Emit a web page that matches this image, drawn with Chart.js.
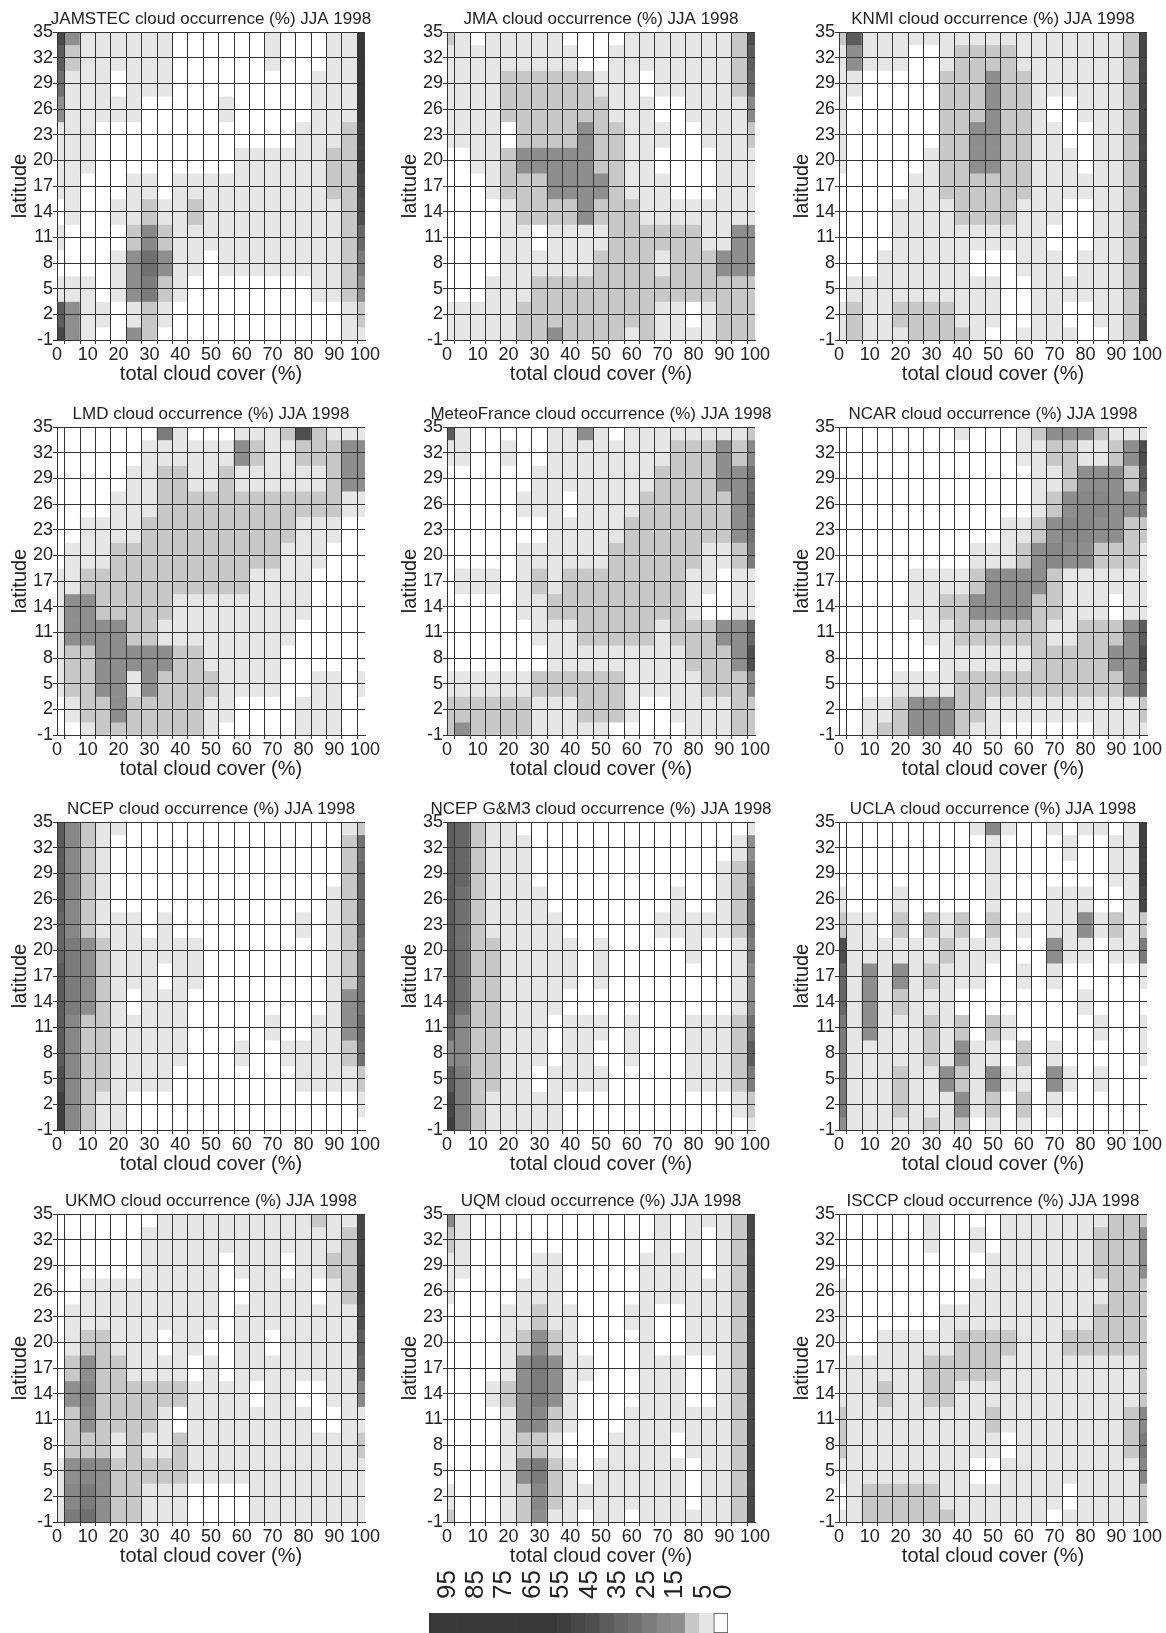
<!DOCTYPE html>
<html>
<head>
<meta charset="utf-8">
<title>cloud occurrence JJA 1998</title>
<script src="https://cdn.jsdelivr.net/npm/chart.js@4.4.1/dist/chart.umd.min.js"></script>
<style>
  body { margin: 0; background: #fff; }
  #page { position: relative; width: 1166px; height: 1633px; overflow: hidden; background: #fff; }
  #page canvas { position: absolute; }
</style>
</head>
<body>
<div id="page"></div>
<script>
// grid nodes: total cloud cover (%) and latitude (rows listed from 35 down to -1)
const cloudCover = [0, 5, 10, 15, 20, 25, 30, 35, 40, 45, 50, 55, 60, 65, 70, 75, 80, 85, 90, 95, 100];
const latitudes = [35, 32, 29, 26, 23, 20, 17, 14, 11, 8, 5, 2, -1];

// cloud occurrence (%), one row per latitude
const jamstec = [
  [50,15,5,5,5,5,5,5,0,0,0,0,0,0,5,0,0,0,5,5,60],
  [40,10,5,5,5,5,5,5,0,0,0,0,0,0,5,0,0,0,5,5,60],
  [30,5,5,5,0,5,5,5,0,0,0,0,0,0,0,0,0,5,5,5,60],
  [15,5,5,5,5,5,0,0,0,0,0,5,0,0,0,0,0,5,5,5,60],
  [5,5,5,0,0,0,0,0,0,0,0,0,0,0,0,0,5,5,5,10,55],
  [5,5,5,0,0,0,0,0,0,0,0,0,5,5,5,5,5,5,10,10,55],
  [5,5,0,0,0,5,5,0,5,5,5,5,5,5,5,5,5,5,10,10,50],
  [0,5,0,0,5,5,10,5,5,10,5,5,5,5,5,5,5,5,5,10,45],
  [5,0,0,0,0,10,20,10,5,5,5,5,5,5,5,5,5,5,5,10,35],
  [0,0,0,0,5,15,30,15,5,5,0,5,5,5,5,5,5,5,5,10,25],
  [5,5,5,0,5,15,25,10,5,0,0,0,0,0,0,0,0,5,5,10,15],
  [40,15,5,5,0,5,10,5,0,0,0,0,0,0,0,0,0,0,0,5,10],
  [50,15,5,0,0,15,10,0,0,0,0,0,0,0,0,0,0,0,0,5,5]
];
const jma = [
  [10,5,0,5,5,5,5,5,0,0,0,0,5,5,5,5,5,5,5,10,45],
  [5,5,5,5,5,5,5,5,5,0,0,5,5,5,5,5,5,5,5,10,40],
  [5,5,5,5,10,10,10,10,10,10,5,5,5,0,5,5,5,5,5,10,35],
  [5,5,5,5,10,10,10,10,10,10,10,5,5,5,0,0,5,5,5,5,20],
  [5,5,5,5,0,10,10,10,10,15,10,10,5,5,5,0,0,5,5,5,10],
  [0,0,5,5,10,15,15,15,15,15,10,10,5,5,0,0,0,0,5,5,5],
  [0,0,0,5,10,10,10,15,15,15,15,10,5,5,5,0,0,0,5,5,5],
  [0,0,0,0,5,10,10,10,10,15,10,10,10,5,5,5,5,5,5,5,5],
  [0,0,0,0,5,5,0,5,5,5,5,10,10,10,10,10,10,5,5,15,15],
  [0,0,0,0,5,5,5,5,5,5,10,10,10,10,5,10,10,10,15,15,15],
  [0,0,0,5,5,5,10,10,10,10,10,10,10,10,10,10,10,10,10,10,10],
  [5,5,5,5,5,10,10,10,10,10,10,10,10,10,5,5,0,5,10,10,10],
  [5,5,5,5,5,10,10,15,10,10,10,10,5,10,5,5,5,5,10,10,10]
];
const knmi = [
  [10,40,5,5,5,5,5,5,5,5,5,5,5,5,5,5,5,5,5,10,50],
  [5,15,5,5,5,0,0,5,10,10,10,10,5,5,5,5,5,5,5,10,50],
  [5,5,0,0,0,0,0,10,10,10,15,10,10,5,5,5,5,5,5,10,50],
  [5,0,0,0,0,0,0,10,10,10,15,10,10,5,0,0,5,5,5,10,50],
  [5,0,0,0,0,0,0,10,10,15,15,10,10,5,5,0,0,5,5,10,50],
  [5,0,0,0,0,0,5,10,10,15,15,10,10,5,5,5,0,5,5,10,50],
  [0,0,0,0,0,5,5,10,10,10,10,10,10,5,5,5,5,5,5,10,50],
  [0,0,0,0,5,5,5,5,10,10,10,10,5,5,5,0,0,5,5,10,50],
  [0,0,0,0,5,5,5,5,5,5,5,5,5,5,0,0,0,5,5,10,50],
  [0,0,0,5,5,5,5,5,5,0,0,0,5,5,5,0,5,5,5,10,50],
  [0,5,5,5,5,5,5,5,5,5,5,0,0,5,5,5,5,5,5,10,50],
  [5,10,5,5,10,10,10,10,5,5,5,0,0,5,5,0,0,5,5,10,50],
  [5,10,5,5,5,10,10,10,10,5,0,0,5,5,5,5,0,0,5,10,50]
];
const lmd = [
  [0,0,0,0,0,0,0,25,5,0,0,0,5,5,5,10,45,10,5,5,5],
  [0,0,0,0,0,0,5,5,5,5,5,5,15,10,5,5,10,10,10,15,15],
  [0,0,0,0,0,5,5,10,10,5,5,10,5,5,5,5,5,5,10,15,15],
  [0,0,0,0,5,5,5,10,10,10,10,10,10,10,10,10,10,10,10,5,5],
  [0,0,5,5,5,5,10,10,10,10,10,10,10,10,10,10,5,5,5,0,0],
  [0,5,5,5,10,10,10,10,10,10,10,10,10,10,10,5,5,5,0,0,0],
  [5,5,10,10,10,10,10,10,10,10,10,10,10,5,5,5,5,0,0,0,0],
  [5,15,15,10,10,10,10,10,5,5,5,5,5,5,5,5,5,0,0,0,0],
  [5,15,15,15,15,10,10,5,5,5,5,5,5,5,5,5,0,0,0,0,0],
  [5,10,10,15,15,15,15,15,10,10,5,5,5,5,5,0,0,0,0,0,0],
  [5,10,10,15,15,5,15,10,10,10,10,5,5,5,5,0,0,5,5,0,5],
  [0,5,10,10,15,10,10,10,10,10,5,5,0,0,0,0,5,5,5,0,0],
  [0,0,5,10,10,10,10,10,10,10,5,0,0,0,0,0,5,5,5,0,0]
];
const meteoFrance = [
  [40,5,0,0,0,0,0,5,5,15,5,0,5,5,5,5,5,5,5,5,10],
  [5,5,0,0,5,0,0,5,5,5,5,5,5,5,5,10,10,10,15,10,20],
  [0,0,0,0,0,0,5,5,5,5,5,5,5,5,10,10,10,10,15,15,30],
  [0,0,0,0,0,5,5,5,0,5,5,5,5,10,10,10,10,10,10,15,35],
  [0,0,0,0,0,0,0,5,5,5,5,5,10,10,10,10,10,10,10,15,30],
  [0,0,0,0,0,5,5,5,5,5,5,10,10,10,10,10,10,5,5,10,25],
  [0,5,5,5,0,5,10,5,10,10,10,10,10,10,10,10,5,5,0,5,5],
  [0,0,0,0,0,5,5,10,10,10,10,10,10,10,10,10,5,0,0,5,5],
  [0,0,0,0,0,0,5,5,5,10,10,10,10,10,5,10,10,10,15,15,35],
  [0,0,0,0,0,0,0,5,5,5,5,5,5,5,5,5,10,10,10,15,45],
  [5,5,5,5,5,5,10,10,10,10,10,10,5,5,5,5,5,10,10,10,20],
  [10,10,10,10,10,10,5,5,5,10,10,10,5,0,0,5,5,5,5,10,10],
  [10,15,10,10,10,10,5,5,5,5,5,0,0,0,0,0,5,5,5,10,10]
];
const ncar = [
  [0,0,0,0,0,0,0,0,5,0,0,0,5,10,15,15,15,10,5,5,5],
  [0,0,0,0,0,0,0,0,0,0,0,0,5,5,10,10,5,5,10,15,45],
  [0,0,0,0,0,0,0,0,0,0,0,0,0,5,5,10,15,15,15,10,40],
  [0,0,0,0,0,0,0,0,0,0,0,0,0,5,10,15,20,20,15,15,25],
  [0,0,0,0,0,0,0,0,0,0,0,5,5,10,15,20,20,15,15,10,10],
  [0,0,0,0,0,0,0,0,0,5,5,5,10,15,20,15,15,10,10,10,5],
  [0,0,0,0,0,5,5,5,5,10,15,15,15,15,10,5,5,5,5,5,5],
  [0,0,0,0,0,5,5,10,10,15,15,15,15,10,10,5,5,5,0,5,5],
  [0,0,0,0,0,0,5,5,10,10,10,10,10,10,5,5,10,10,10,15,40],
  [0,0,0,0,0,0,0,5,5,5,5,5,5,10,10,10,10,10,15,15,45],
  [0,0,0,0,5,5,5,5,10,10,10,10,10,10,10,10,10,10,10,15,35],
  [0,0,5,5,10,15,15,15,10,10,5,5,5,5,5,5,5,5,5,5,10],
  [0,0,5,10,10,15,15,15,10,5,5,0,0,0,0,0,0,5,5,5,5]
];
const ncep = [
  [40,20,10,5,5,0,0,0,0,0,0,0,0,0,0,0,0,0,0,5,10],
  [40,20,10,5,0,0,0,0,0,0,0,0,0,0,0,0,0,0,0,10,30],
  [40,20,10,5,0,0,0,0,0,0,0,0,0,0,0,0,0,0,0,10,35],
  [40,20,10,5,0,0,0,0,0,0,0,0,0,0,0,0,0,0,5,10,35],
  [35,20,10,5,5,5,0,5,0,0,0,0,0,0,0,0,5,0,5,10,35],
  [35,25,15,10,5,5,5,5,5,5,0,0,0,0,0,0,0,0,5,10,30],
  [40,25,15,10,5,5,5,0,5,5,0,0,0,0,0,0,0,0,5,10,30],
  [40,25,15,10,5,0,5,5,5,0,0,0,0,0,0,0,0,0,5,15,30],
  [40,20,10,10,5,5,5,5,5,0,0,0,0,0,5,0,0,5,5,15,35],
  [40,20,10,10,5,5,5,5,5,0,0,0,5,0,0,5,5,5,5,10,30],
  [45,20,10,10,5,5,5,5,0,0,0,0,0,0,0,0,5,5,5,5,10],
  [55,20,10,5,5,0,0,0,0,0,0,0,0,0,0,0,0,0,0,0,5],
  [55,20,10,5,5,0,0,0,0,0,0,0,0,0,0,0,0,0,0,0,0]
];
const ncepGM3 = [
  [40,35,10,5,5,0,0,0,0,0,0,0,0,0,0,0,0,0,0,0,5],
  [40,35,10,5,5,5,0,0,0,0,0,0,0,0,0,0,0,0,0,5,15],
  [40,35,10,5,5,5,0,0,0,0,0,0,0,0,0,0,0,0,5,10,25],
  [40,30,10,5,5,5,5,0,0,0,0,0,0,0,0,5,0,0,5,10,30],
  [40,30,10,5,5,5,5,5,0,0,0,0,0,0,5,5,5,5,5,10,30],
  [40,30,10,10,5,5,5,5,5,0,5,0,0,0,0,0,5,0,0,5,25],
  [40,30,10,10,5,5,5,5,5,0,5,0,0,0,0,0,0,0,0,5,20],
  [40,30,10,10,5,5,5,5,0,0,0,0,0,0,0,0,0,0,0,5,20],
  [35,20,10,10,5,5,5,0,5,5,5,0,5,0,0,0,5,5,5,10,30],
  [20,20,10,10,5,5,5,0,5,5,0,0,5,0,0,0,5,5,5,10,40],
  [40,25,10,10,5,5,0,5,5,5,5,0,0,0,0,0,5,5,5,10,25],
  [50,25,10,5,5,5,5,5,0,0,0,0,0,0,0,0,0,0,0,5,10],
  [55,25,10,5,5,5,5,5,0,0,0,0,0,0,0,0,0,0,0,0,5]
];
const ucla = [
  [0,0,0,0,0,0,0,0,0,5,20,5,0,0,5,0,5,5,0,5,55],
  [0,0,0,0,0,0,0,0,0,0,5,0,0,0,0,5,0,0,5,5,55],
  [0,0,0,0,0,0,0,0,0,0,5,0,0,0,0,0,0,0,5,5,55],
  [5,0,0,0,5,0,0,0,0,0,5,0,0,0,5,5,5,0,0,5,50],
  [10,5,5,0,10,0,10,5,10,0,10,0,5,0,5,5,15,5,10,5,10],
  [45,5,5,5,5,5,5,10,5,5,5,0,0,0,15,5,5,0,5,5,25],
  [35,5,15,5,15,5,10,5,5,5,0,0,5,0,5,0,0,0,0,0,5],
  [35,5,15,5,10,5,5,5,0,0,0,0,0,0,0,0,5,0,0,0,0],
  [25,5,15,5,5,5,10,5,10,0,10,5,0,0,0,0,0,5,0,0,5],
  [25,5,5,5,5,5,10,5,15,5,5,0,10,0,5,0,0,0,0,0,5],
  [25,5,5,5,10,5,5,15,10,5,20,5,5,0,15,5,0,5,0,0,0],
  [25,5,5,5,10,5,5,5,15,5,10,0,10,0,5,0,0,0,0,0,0],
  [15,5,5,5,5,5,10,5,10,0,5,0,5,0,0,0,0,0,0,0,0]
];
const ukmo = [
  [0,0,0,0,0,0,0,5,5,5,5,5,5,5,5,5,5,10,5,5,50],
  [0,0,0,0,0,0,5,5,5,5,5,5,5,5,5,5,5,5,5,10,50],
  [0,0,0,0,0,0,5,5,5,5,5,0,5,5,5,0,5,5,10,10,50],
  [0,0,5,5,5,5,5,5,5,5,5,0,0,5,5,5,5,0,5,10,50],
  [0,5,5,5,5,5,5,5,5,5,5,0,5,5,5,5,5,5,5,5,45],
  [0,5,10,10,5,5,5,0,5,5,0,0,5,5,0,5,5,5,5,5,40],
  [0,10,15,10,10,5,5,5,5,0,5,0,5,5,5,5,5,5,5,5,35],
  [0,15,20,10,10,10,10,10,10,5,5,5,5,0,5,5,0,0,5,5,20],
  [0,10,15,10,10,10,10,5,0,5,5,5,5,5,5,5,5,0,0,5,5],
  [0,10,10,10,5,10,5,5,10,5,5,5,5,5,5,5,5,5,5,5,10],
  [5,15,20,15,10,10,10,10,10,5,5,5,5,5,5,5,5,5,5,5,5],
  [5,20,25,15,10,10,5,5,5,0,0,0,0,5,5,5,5,5,5,5,5],
  [5,25,30,15,10,10,5,5,5,0,0,0,0,5,5,5,5,5,5,5,5]
];
const uqm = [
  [20,5,0,0,0,0,0,0,0,0,0,0,0,0,5,0,5,5,5,10,50],
  [10,5,0,0,0,0,0,0,0,0,0,0,0,0,5,0,5,0,5,10,50],
  [5,5,0,0,0,0,5,5,0,0,0,0,0,5,5,5,5,0,5,10,50],
  [5,0,0,0,0,5,5,5,0,0,0,0,0,5,5,5,5,5,5,10,50],
  [0,0,0,0,5,5,10,5,5,0,0,0,5,5,0,0,5,5,5,10,50],
  [0,0,0,0,5,10,15,10,5,0,0,0,0,5,0,0,5,5,5,10,50],
  [0,0,0,0,5,15,25,15,5,5,0,0,0,5,5,5,0,0,5,10,50],
  [0,0,0,5,10,15,25,15,5,0,0,0,0,5,5,5,0,0,5,10,50],
  [0,0,0,0,5,15,20,10,5,0,0,0,5,5,5,5,5,5,5,10,50],
  [0,0,0,0,5,10,10,5,0,0,0,5,5,5,5,0,5,5,5,10,50],
  [0,0,0,0,5,15,25,10,5,0,5,5,5,5,5,5,0,5,5,10,50],
  [5,0,0,0,5,10,20,10,5,5,5,5,5,5,5,5,0,5,5,10,50],
  [10,0,0,0,5,10,15,5,5,0,5,5,0,5,5,5,5,5,5,10,50]
];
const isccp = [
  [0,0,0,0,0,0,5,0,0,0,0,5,5,5,5,5,5,5,10,10,10],
  [0,0,0,0,0,0,5,0,0,5,0,5,5,5,5,5,5,10,10,10,15],
  [0,0,0,0,0,0,0,0,0,0,5,5,5,5,5,5,5,10,10,10,15],
  [5,0,0,0,0,0,0,0,0,5,5,5,5,5,5,5,5,5,10,10,10],
  [5,0,0,0,0,0,0,5,5,5,5,5,5,5,5,5,5,10,10,10,10],
  [5,0,0,5,5,5,5,5,10,10,10,10,5,5,5,10,10,10,10,10,10],
  [5,5,5,5,5,5,10,10,10,10,10,5,5,5,5,5,5,5,5,5,10],
  [5,5,5,10,5,5,10,10,5,5,5,5,5,5,5,5,5,5,5,5,10],
  [10,5,5,5,5,5,5,5,5,5,10,5,5,5,5,5,5,5,5,10,20],
  [10,5,5,5,5,5,5,5,5,5,5,0,5,5,5,5,5,5,5,10,25],
  [5,5,5,5,5,5,5,5,5,0,0,5,5,5,5,5,5,5,5,5,20],
  [0,5,10,10,10,10,10,5,5,5,5,5,5,5,5,0,5,5,5,5,10],
  [5,5,10,10,10,10,10,10,5,5,5,5,5,5,0,5,5,5,5,5,10]
];

const models = ['JAMSTEC', 'JMA', 'KNMI', 'LMD', 'MeteoFrance', 'NCAR',
                'NCEP', 'NCEP G&M3', 'UCLA', 'UKMO', 'UQM', 'ISCCP'];
const modelValues = [jamstec, jma, knmi, lmd, meteoFrance, ncar,
                     ncep, ncepGM3, ucla, ukmo, uqm, isccp];

// colour bar: one box per 5 % class, labelled classes
const cbarValues = [100, 95, 90, 85, 80, 75, 70, 65, 60, 55, 50, 45, 40, 35, 30, 25, 20, 15, 10, 5, 0];
const cbarLabels = ['95', '85', '75', '65', '55', '45', '35', '25', '15', '5', '0'];
// where each label sits along the bar (the last one is pushed into the white box)
const cbarLabelAt = [95, 85, 75, 65, 55, 45, 35, 25, 15, 5, -2];

// shading, one grey per 5 % step
const grays = ['#ffffff', '#e6e6e6', '#c8c8c8', '#8e8e8e', '#888888', '#7b7b7b', '#707070',
               '#666666', '#5c5c5c', '#4e4e4e', '#474747', '#3f3f3f', '#383838'];
function grayFor(v) {
  return grays[Math.min(grays.length - 1, Math.round(v / 5))];
}

const FONT = "'Liberation Sans', Arial, Helvetica, sans-serif";
const INK = '#222';
const LINE = '#333';
Chart.defaults.font.family = FONT;
Chart.defaults.color = INK;

const page = document.getElementById('page');
const colLeft = [57, 447, 839];
const rowTop = [32, 427, 822, 1214];
const PLOT = 308;

// panel heading, centred over the plot area (may be wider than it)
const panelTitle = {
  id: 'panelTitle',
  afterDraw(chart, args, opts) {
    const { ctx, chartArea } = chart;
    ctx.save();
    ctx.font = '17px ' + FONT;
    ctx.fillStyle = INK;
    ctx.textAlign = 'center';
    ctx.textBaseline = 'middle';
    ctx.fillText(opts.text, (chartArea.left + chartArea.right) / 2, chartArea.top - 13);
    ctx.restore();
  }
};

function makeCanvas(left, top, w, h) {
  const c = document.createElement('canvas');
  c.width = w; c.height = h;
  c.style.left = left + 'px'; c.style.top = top + 'px';
  c.style.width = w + 'px'; c.style.height = h + 'px';
  page.appendChild(c);
  return c;
}

function drawPanel(model, values, i) {
  const col = i % 3, row = Math.floor(i / 3);
  const canvas = makeCanvas(colLeft[col] - 57, rowTop[row] - 32, 57 + PLOT + 57, 32 + PLOT + 50);

  const datasets = latitudes.map((lat, r) => ({
    data: cloudCover.map(c => ({ x: c, y: [lat - 1.5, lat + 1.5] })),
    backgroundColor: values[r].map(grayFor),
    borderWidth: 0,
    grouped: false,
    barPercentage: 1,
    categoryPercentage: 1
  }));

  new Chart(canvas, {
    type: 'bar',
    data: { datasets },
    plugins: [panelTitle],
    options: {
      responsive: false,
      animation: false,
      events: [],
      layout: { padding: { top: 32, right: 57 } },
      plugins: {
        legend: { display: false },
        tooltip: { enabled: false },
        panelTitle: { text: model + ' cloud occurrence (%) JJA 1998' }
      },
      scales: {
        x: {
          type: 'linear', min: 0, max: 100, offset: false,
          ticks: {
            stepSize: 5, autoSkip: false, maxRotation: 0, padding: 0,
            color: INK, font: { size: 18 },
            callback: v => (v % 10 === 0 ? v : '')
          },
          grid: { color: LINE, lineWidth: 1, tickLength: 4, z: 1 },
          border: { color: LINE, width: 1, z: 1 },
          title: {
            display: true, text: 'total cloud cover (%)', color: INK,
            font: { size: 20 }, padding: { top: 0, bottom: 4 }
          },
          afterFit: s => { s.height = 50; }
        },
        y: {
          type: 'linear', min: -1, max: 35,
          ticks: { stepSize: 3, autoSkip: false, padding: 0, color: INK, font: { size: 18 } },
          grid: { color: LINE, lineWidth: 1, tickLength: 4, z: 1 },
          border: { color: LINE, width: 1, z: 1 },
          title: {
            display: true, text: 'latitude', color: INK,
            font: { size: 20 }, padding: { top: 8, bottom: 0 }
          },
          afterFit: s => { s.width = 57; }
        }
      }
    }
  });
}

models.forEach((m, i) => drawPanel(m, modelValues[i], i));

// colour bar under the middle column, value axis running 100 -> 0
const CB_FONT = 26;
const cbCanvas = makeCanvas(409, 1550, 339, 83);
new Chart(cbCanvas, {
  type: 'bar',
  data: {
    datasets: [{
      data: cbarValues.map(v => ({ x: v, y: 1 })),
      backgroundColor: cbarValues.map(grayFor),
      borderColor: '#444',
      borderWidth: cbarValues.map(v => (v === 0 ? 1 : 0)),
      borderSkipped: false,
      grouped: false,
      barPercentage: 1,
      categoryPercentage: 1
    }]
  },
  options: {
    responsive: false,
    animation: false,
    events: [],
    layout: { padding: { left: 20, right: 20 } },
    plugins: { legend: { display: false }, tooltip: { enabled: false } },
    scales: {
      x: {
        type: 'linear', position: 'top', min: -2.5, max: 102.5, reverse: true, offset: false,
        afterBuildTicks: s => { s.ticks = cbarLabelAt.map(v => ({ value: v })); },
        ticks: {
          autoSkip: false, minRotation: 90, maxRotation: 90, padding: 6,
          labelOffset: CB_FONT * 1.2 - 3,
          color: INK, font: { size: CB_FONT },
          callback: (v, k) => cbarLabels[k]
        },
        grid: { display: false },
        border: { display: false },
        afterFit: s => { s.height = 63; }
      },
      y: { display: false, min: 0, max: 1 }
    }
  }
});
</script>
</body>
</html>
